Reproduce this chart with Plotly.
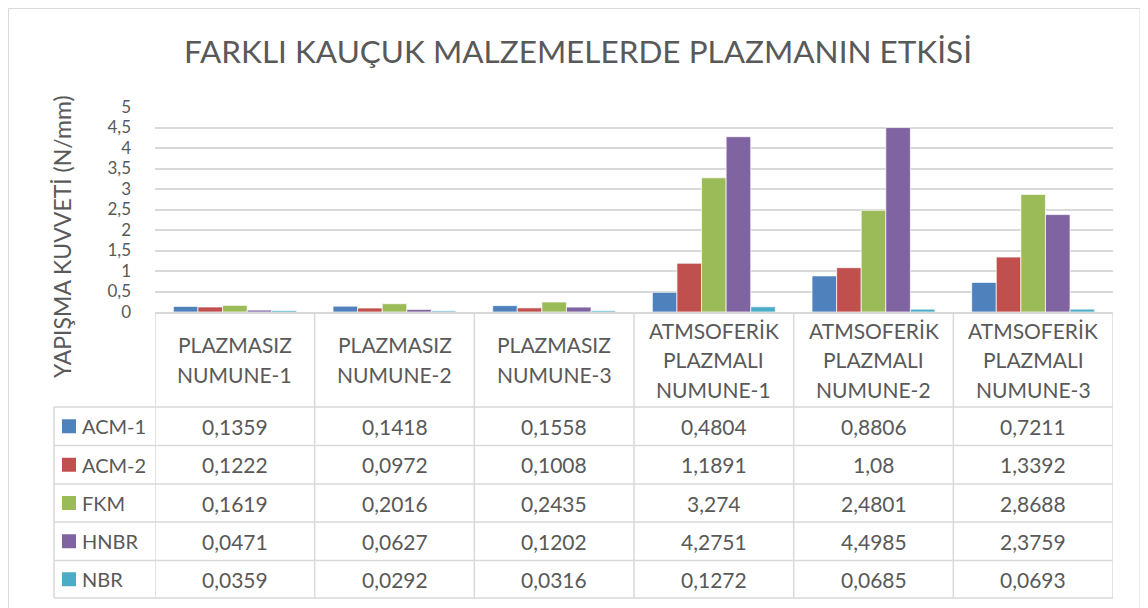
import plotly.graph_objects as go

categories = [
    "PLAZMASIZ<br>NUMUNE-1",
    "PLAZMASIZ<br>NUMUNE-2",
    "PLAZMASIZ<br>NUMUNE-3",
    "ATMSOFERİK<br>PLAZMALI<br>NUMUNE-1",
    "ATMSOFERİK<br>PLAZMALI<br>NUMUNE-2",
    "ATMSOFERİK<br>PLAZMALI<br>NUMUNE-3",
]
series_names = ["ACM-1", "ACM-2", "FKM", "HNBR", "NBR"]
acm1 = [0.1359, 0.1418, 0.1558, 0.4804, 0.8806, 0.7211]
acm2 = [0.1222, 0.0972, 0.1008, 1.1891, 1.08, 1.3392]
fkm = [0.1619, 0.2016, 0.2435, 3.274, 2.4801, 2.8688]
hnbr = [0.0471, 0.0627, 0.1202, 4.2751, 4.4985, 2.3759]
nbr = [0.0359, 0.0292, 0.0316, 0.1272, 0.0685, 0.0693]
series_values = [acm1, acm2, fkm, hnbr, nbr]
colors = ["#4F81BD", "#C0504D", "#9BBB59", "#8064A2", "#4BACC6"]
title_text = "FARKLI KAUÇUK MALZEMELERDE PLAZMANIN ETKİSİ"
y_title = "YAPIŞMA KUVVETİ (N/mm)"

FONT = "Lato"
TXT = "#595959"
GRID = "#d9d9d9"
OFF = 8                      # page body margin
W, H = 1148 - OFF, 608 - OFF
# plot area in page pixel coordinates
L, R, T, B = 155, 1113, 107, 312


def px(X):
    return (X - L) / (R - L)


def py(Y):
    return (B - Y) / (B - T)


xs = list(range(len(categories)))
fig = go.Figure()
for name, vals, col in zip(series_names, series_values, colors):
    fig.add_trace(go.Bar(
        x=xs, y=vals, name=name,
        marker=dict(color=col, line=dict(color="rgba(255,255,255,0.7)", width=1)),
        showlegend=False,
    ))

shapes = []
annotations = []

# chart border
shapes.append(dict(type="rect", xref="paper", yref="paper",
                   x0=px(8.5), x1=px(1140), y0=py(8.5), y1=py(612),
                   line=dict(color=GRID, width=1), layer="below"))

# table lines
row_edges = [407, 445.5, 484, 522, 560.5, 598]
header_mid = (B + row_edges[0]) / 2
for i in range(len(categories) + 1):
    shapes.append(dict(type="line", xref="x", yref="paper",
                       x0=i - 0.5, x1=i - 0.5, y0=py(B), y1=py(598),
                       line=dict(color=GRID, width=1.5)))
shapes.append(dict(type="line", xref="paper", yref="paper",
                   x0=px(54), x1=px(54), y0=py(407), y1=py(598),
                   line=dict(color=GRID, width=1.5)))
for Y in row_edges:
    shapes.append(dict(type="line", xref="paper", yref="paper",
                       x0=px(54), x1=1, y0=py(Y), y1=py(Y),
                       line=dict(color=GRID, width=1.5)))

# header labels
line_gap = 29.5
for i, cat in enumerate(categories):
    parts = cat.split("<br>")
    n = len(parts)
    for k, p in enumerate(parts):
        Yc = header_mid + (k - (n - 1) / 2) * line_gap
        annotations.append(dict(xref="x", yref="paper", x=i, y=py(Yc),
                                text=p, showarrow=False,
                                xanchor="center", yanchor="middle",
                                font=dict(family=FONT, size=21, color=TXT)))

# data rows
for r, (name, vals, col) in enumerate(zip(series_names, series_values, colors)):
    Yc = (row_edges[r] + row_edges[r + 1]) / 2
    shapes.append(dict(type="rect", xref="paper", yref="paper",
                       x0=px(62), x1=px(76), y0=py(Yc - 7), y1=py(Yc + 7),
                       fillcolor=col, line=dict(width=0)))
    annotations.append(dict(xref="paper", yref="paper", x=px(80), y=py(Yc),
                            text=name, showarrow=False,
                            xanchor="left", yanchor="middle",
                            font=dict(family=FONT, size=20, color=TXT)))
    for i, v in enumerate(vals):
        annotations.append(dict(xref="x", yref="paper", x=i, y=py(Yc),
                                text=repr(v).replace(".", ","), showarrow=False,
                                xanchor="center", yanchor="middle",
                                font=dict(family=FONT, size=21, color=TXT)))

# y-axis title
annotations.append(dict(xref="paper", yref="paper", x=px(62), y=py(237),
                        text=y_title, textangle=-90, showarrow=False,
                        xanchor="center", yanchor="middle",
                        font=dict(family=FONT, size=23, color=TXT)))

fig.update_layout(
    width=W, height=H,
    margin=dict(l=L - OFF, r=1148 - R, t=T - OFF, b=608 - B),
    paper_bgcolor="white", plot_bgcolor="white",
    separators=", ",
    barmode="group", bargap=0.23, bargroupgap=0,
    title=dict(text=title_text, x=0.5, xref="container", xanchor="center",
               y=1 - (52 - OFF) / H, yref="container", yanchor="middle",
               font=dict(family=FONT, size=31.5, color=TXT)),
    xaxis=dict(range=[-0.5, len(categories) - 0.5], showticklabels=False,
               showgrid=False, zeroline=False, showline=True,
               linecolor=GRID, linewidth=1.5, fixedrange=True),
    yaxis=dict(range=[0, 5], dtick=0.5, showgrid=True, gridcolor=GRID,
               gridwidth=1.5, zeroline=False, showline=False,
               ticklabelstandoff=23,
               tickfont=dict(family=FONT, size=17, color=TXT)),
    shapes=shapes, annotations=annotations,
    font=dict(family=FONT, color=TXT),
)

fig.write_html("out.html")
